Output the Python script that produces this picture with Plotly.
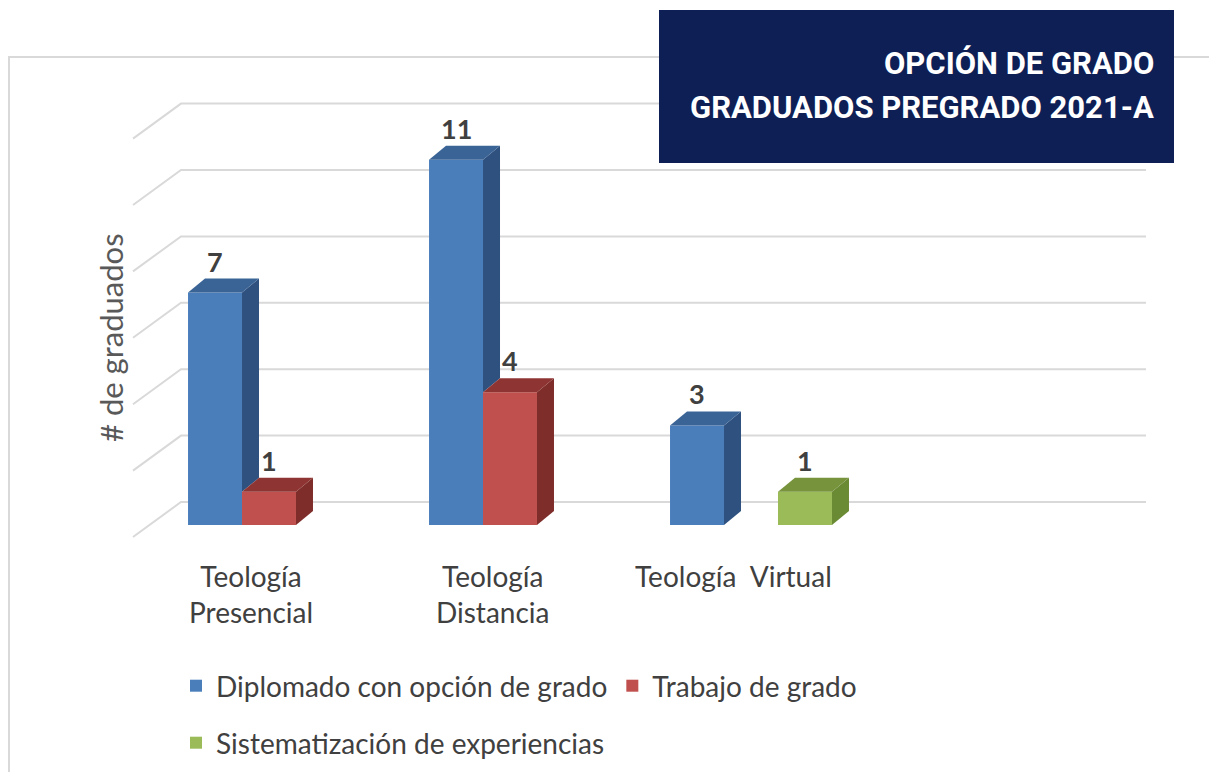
import plotly.graph_objects as go

# ---------------- data ----------------
categories = ["Teología<br>Presencial", "Teología<br>Distancia", "Teología  Virtual"]
series_names = ["Diplomado con opción de grado", "Trabajo de grado", "Sistematización de experiencias"]
diplomado = [7, 11, 3]
trabajo = [1, 4, None]
sistematizacion = [None, None, 1]
title_lines = ["OPCIÓN DE GRADO", "GRADUADOS PREGRADO 2021-A"]
y_title = "# de graduados"
grid_values = [0, 2, 4, 6, 8, 10, 12]

# ---------------- style ----------------
OFF = 8                              # page body margin of the html page
FW, FH = 1217 - 2 * OFF, 780 - 2 * OFF
CAT0_PX, CAT_PX = 269, 241          # page pixel of first category centre, pixels per category
ZERO_PX, UNIT_PX = 525, 33.2        # page pixel of value 0, pixels per unit
BARGAP = 0.328
DX = 17 / CAT_PX                    # 3D depth offset (x, data units)
DY = 14 / UNIT_PX                   # 3D depth offset (y, data units)


def px(p):   # page x pixel -> paper
    return (p - OFF) / FW


def py(p):   # page y pixel -> paper
    return 1 - (p - OFF) / FH


front = ["#4a7ebb", "#c0504d", "#9bbb59"]
side = ["#2e5180", "#7f2d2b", "#6b8a34"]
top = ["#3b6496", "#8e3533", "#77933c"]
FONT = "Lato"
TXT = "#404040"

series = [diplomado, trabajo, sistematizacion]
n = len(series)
bw = (1 - BARGAP) / n
xs = list(range(len(categories)))

x_range = [(OFF - CAT0_PX) / CAT_PX, (OFF + FW - CAT0_PX) / CAT_PX]
y_range = [(ZERO_PX - (OFF + FH)) / UNIT_PX, (ZERO_PX - OFF) / UNIT_PX]

fig = go.Figure()

# front faces
for k, vals in enumerate(series):
    fig.add_trace(go.Bar(
        x=xs, y=vals, name=series_names[k],
        marker=dict(color=front[k], line=dict(width=0)),
        legend="legend" if k < 2 else "legend2",
        hoverinfo="skip",
    ))

# side and top faces (3D look)
for k, vals in enumerate(series):
    off = (k - (n - 1) / 2) * bw
    for i, v in enumerate(vals):
        if v is None:
            continue
        xl = xs[i] + off - bw / 2
        xr = xl + bw
        nb = 0
        if k + 1 < n and series[k + 1][i] is not None:
            nb = series[k + 1][i]
        if nb < v:
            fig.add_trace(go.Scatter(
                x=[xr, xr, xr + DX, xr + DX, xr], y=[nb, v, v + DY, nb + DY, nb],
                mode="lines", fill="toself", fillcolor=side[k], line=dict(width=0),
                hoverinfo="skip", showlegend=False))
        fig.add_trace(go.Scatter(
            x=[xl, xr, xr + DX, xl + DX, xl], y=[v, v, v + DY, v + DY, v],
            mode="lines", fill="toself", fillcolor=top[k], line=dict(width=0),
            hoverinfo="skip", showlegend=False))
        fig.add_annotation(
            x=xs[i] + off, y=v, xref="x", yref="y", text=f"<b>{v}</b>",
            showarrow=False, yanchor="bottom", yshift=13,
            font=dict(family=FONT, size=27, color=TXT))

# gridlines (side wall + back wall)
x_fl = (133 - CAT0_PX) / CAT_PX
x_bl = (181 - CAT0_PX) / CAT_PX
x_br = (1146 - CAT0_PX) / CAT_PX
y_fl = (ZERO_PX - 537) / UNIT_PX
y_bk = (ZERO_PX - 502) / UNIT_PX
for g in grid_values:
    fig.add_shape(type="path", xref="x", yref="y", layer="below",
                  path=f"M{x_fl},{g + y_fl} L{x_bl},{g + y_bk} L{x_br},{g + y_bk}",
                  line=dict(color="#d9d9d9", width=2))

# category labels
for i, c in enumerate(categories):
    fig.add_annotation(x=xs[i], y=0, xref="x", yref="y", text=c, showarrow=False,
                       yanchor="top", yshift=-32, xshift=-18, align="center",
                       font=dict(family=FONT, size=28, color=TXT))

# axis title
fig.add_annotation(x=px(111), y=py(338), xref="paper", yref="paper", text=y_title,
                   textangle=-90, showarrow=False, xanchor="center", yanchor="middle",
                   font=dict(family=FONT, size=31, color="#595959"))

# chart border
fig.add_shape(type="rect", xref="paper", yref="paper", x0=px(9), x1=1.05, y0=-0.05, y1=py(57),
              line=dict(color="#d9d9d9", width=2), fillcolor="rgba(0,0,0,0)", layer="below")

# title box
fig.add_shape(type="rect", xref="paper", yref="paper", x0=px(659), x1=px(1174),
              y0=py(163), y1=py(10), line=dict(width=0), fillcolor="#0e1f56", layer="above")
for t, yc in zip(title_lines, [63, 108]):
    fig.add_annotation(x=px(1156), y=py(yc), xref="paper", yref="paper", text=f"<b>{t}</b>",
                       showarrow=False, xanchor="right", yanchor="middle",
                       font=dict(family="Roboto", size=31, color="white"))

fig.update_layout(
    width=FW, height=FH, autosize=False,
    margin=dict(l=0, r=0, t=0, b=0),
    paper_bgcolor="white", plot_bgcolor="white",
    barmode="group", bargap=BARGAP, bargroupgap=0,
    xaxis=dict(range=x_range, visible=False, fixedrange=True),
    yaxis=dict(range=y_range, visible=False, fixedrange=True),
    legend=dict(orientation="h", x=px(176), xanchor="left", y=py(686), yanchor="middle",
                font=dict(family=FONT, size=28, color=TXT), bgcolor="rgba(0,0,0,0)"),
    legend2=dict(orientation="h", x=px(176), xanchor="left", y=py(743), yanchor="middle",
                 font=dict(family=FONT, size=28, color=TXT), bgcolor="rgba(0,0,0,0)"),
    showlegend=True,
)

fig.write_html("out.html")
